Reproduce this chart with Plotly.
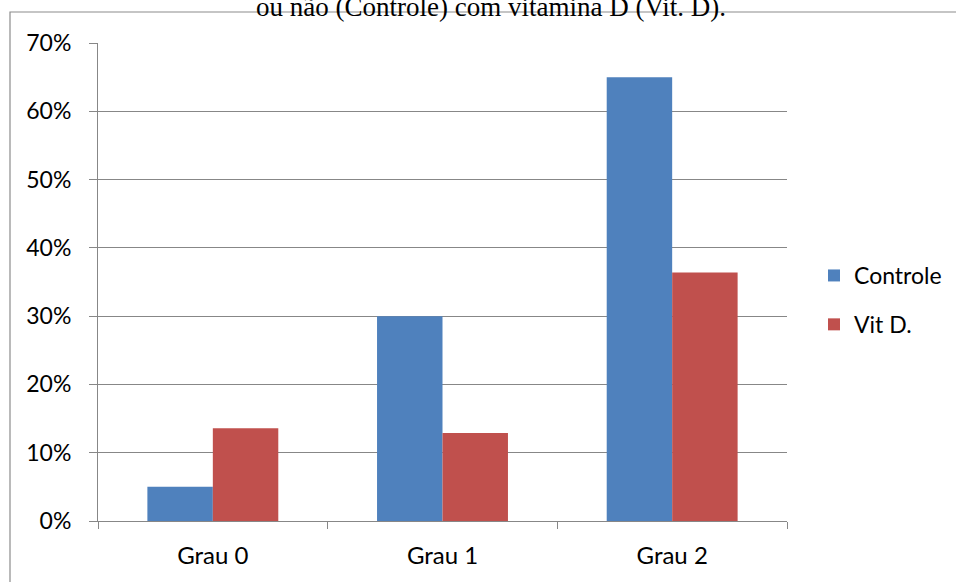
import plotly.graph_objects as go

categories = ["Grau 0", "Grau 1", "Grau 2"]
controle = [0.05, 0.30, 0.65]
vitd = [0.136, 0.129, 0.364]
y_ticks = [0, 0.1, 0.2, 0.3, 0.4, 0.5, 0.6, 0.7]

W, H = 956, 582
L, R, T, B = 98, 787, 43, 521

def px(x):
    return (x - L) / (R - L)

def py(y):
    return (B - y) / (B - T)

fig = go.Figure()
fig.add_trace(go.Bar(x=categories, y=controle, name="Controle",
                     marker=dict(color="#4F81BD", line=dict(width=0)),
                     legendgroup="a"))
fig.add_trace(go.Bar(x=categories, y=vitd, name="Vit D.",
                     marker=dict(color="#C0504D", line=dict(width=0)),
                     legendgroup="b"))

grid = "#878787"
fig.update_layout(
    width=W, height=H,
    margin=dict(l=L, r=W - R, t=T, b=H - B, pad=0, autoexpand=False),
    paper_bgcolor="white", plot_bgcolor="white",
    barmode="group", bargap=0.43, bargroupgap=0,
    font=dict(family="Lato", size=23, color="black"),
    showlegend=True,
    legend=dict(x=px(814), xanchor="left", y=py(300), yanchor="middle",
                traceorder="grouped", tracegroupgap=16,
                font=dict(family="Lato", size=23, color="black"),
                itemwidth=30, bgcolor="rgba(0,0,0,0)"),
    xaxis=dict(type="category", showline=True, linecolor=grid, linewidth=1,
               ticks="outside", tickson="boundaries", ticklen=7, tickcolor=grid,
               showgrid=False, ticklabelstandoff=13, range=[-0.5, 2.5],
               tickfont=dict(size=24)),
    yaxis=dict(range=[0, 0.7], tickvals=y_ticks, tickformat=".0%",
               showline=True, linecolor=grid, linewidth=1,
               ticks="outside", ticklen=8, tickcolor=grid,
               showgrid=True, gridcolor=grid, gridwidth=1,
               zeroline=False, ticklabelstandoff=13),
)

fig.add_shape(type="rect", xref="paper", yref="paper",
              x0=px(10), x1=px(970), y0=py(600), y1=py(12),
              line=dict(color="#8c8c8c", width=1.2), fillcolor="rgba(0,0,0,0)",
              layer="below")

fig.add_annotation(text="ou não (Controle) com vitamina D (Vit. D).",
                   xref="paper", yref="paper", x=px(491), y=py(24),
                   xanchor="center", yanchor="bottom", showarrow=False,
                   font=dict(family="Liberation Serif", size=27, color="black"))

fig.write_html("out.html", config={"displayModeBar": False},
               post_script="document.body.style.margin='0';document.body.style.padding='0';")
